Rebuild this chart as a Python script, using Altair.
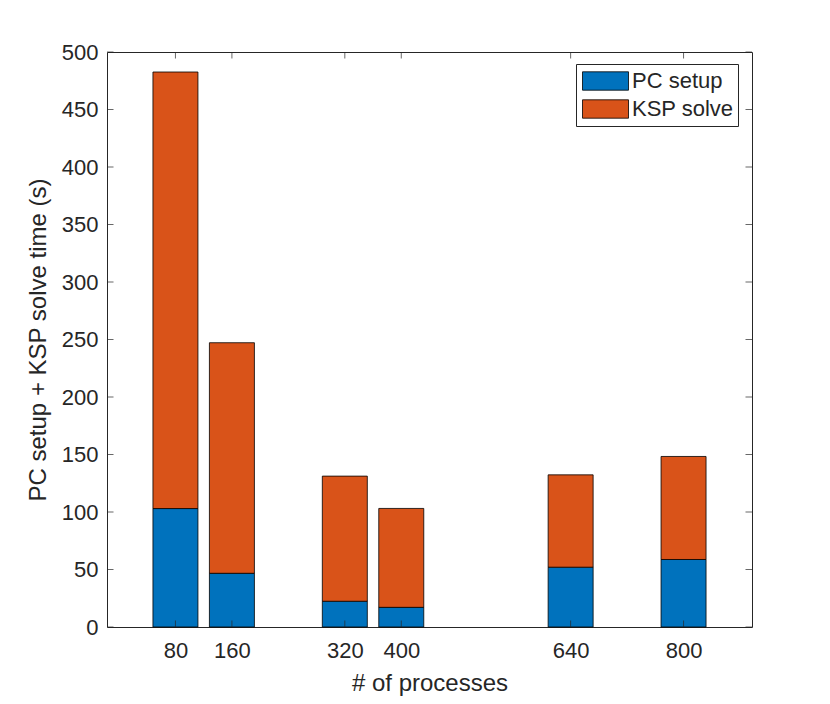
import altair as alt
import pandas as pd

processes = [80, 160, 320, 400, 640, 800]
pc_setup = [103.0, 46.7, 22.4, 17.1, 52.0, 58.7]
ksp_solve = [379.6, 200.5, 108.8, 86.0, 80.3, 89.6]
series = ["PC setup", "KSP solve"]
colors = ["#0072BD", "#D95319"]
y_ticks = [0, 50, 100, 150, 200, 250, 300, 350, 400, 450, 500]

rows = []
for p, a, b in zip(processes, pc_setup, ksp_solve):
    rows.append({"np": p, "series": series[0], "k": 0, "t": a})
    rows.append({"np": p, "series": series[1], "k": 1, "t": b})
df = pd.DataFrame(rows)

W, H = 645, 575
TICK = 6.5
FONT = "Liberation Sans"
INK = "#262626"

xscale = alt.Scale(domain=[-17, 897], nice=False, zero=False, padding=0)
yscale = alt.Scale(domain=[0, 500], nice=False, padding=0)
xaxis = alt.Axis(values=processes, title="# of processes", labelPadding=13, titlePadding=10)
yaxis = alt.Axis(values=y_ticks, title="PC setup + KSP solve time (s)", labelPadding=9, titlePadding=11)

bars = alt.Chart(df).mark_bar(size=45, stroke="black", strokeWidth=0.8, opacity=1).encode(
    x=alt.X("np:Q", scale=xscale, axis=xaxis),
    y=alt.Y("t:Q", stack="zero", scale=yscale, axis=yaxis),
    color=alt.Color("series:N", scale=alt.Scale(domain=series, range=colors),
                    legend=alt.Legend(
                        title=None, orient="none", legendX=469, legendY=12,
                        symbolType="M-1,-0.4L1,-0.4L1,0.4L-1,0.4Z",
                        symbolSize=2116, clipHeight=26, rowPadding=2,
                        padding=4, symbolOffset=2, labelOffset=3,
                        labelFont=FONT, labelFontSize=22, labelColor=INK,
                        strokeColor=INK, fillColor="white",
                        symbolStrokeColor="black", symbolStrokeWidth=0.8,
                        symbolOpacity=1, labelLimit=0)),
    order=alt.Order("k:Q"),
)

xt = pd.DataFrame({"np": processes})
yt = pd.DataFrame({"t": y_ticks})
rule = dict(color=INK, strokeWidth=0.7)

tick_bottom = alt.Chart(xt).mark_rule(**rule).encode(
    x=alt.X("np:Q", scale=xscale, axis=xaxis), y=alt.value(H), y2=alt.value(H - TICK))
tick_top = alt.Chart(xt).mark_rule(**rule).encode(
    x=alt.X("np:Q", scale=xscale, axis=xaxis), y=alt.value(0), y2=alt.value(TICK))
tick_left = alt.Chart(yt).mark_rule(**rule).encode(
    y=alt.Y("t:Q", scale=yscale, axis=yaxis), x=alt.value(0), x2=alt.value(TICK))
tick_right = alt.Chart(yt).mark_rule(**rule).encode(
    y=alt.Y("t:Q", scale=yscale, axis=yaxis), x=alt.value(W), x2=alt.value(W - TICK))

chart = alt.layer(bars, tick_bottom, tick_top, tick_left, tick_right).properties(
    width=W, height=H,
    padding={"left": 99, "top": 44, "right": 70, "bottom": 69},
    autosize=alt.AutoSizeParams(type="none"),
    background="white",
).configure_view(
    stroke=INK, strokeWidth=1
).configure_axis(
    domain=False, ticks=False, tickSize=0, grid=False,
    labelFont=FONT, labelFontSize=22, labelColor=INK,
    titleFont=FONT, titleFontSize=24, titleColor=INK, titleFontWeight="normal",
)

chart.save("out.html", embed_options={"renderer": "svg", "actions": False})
